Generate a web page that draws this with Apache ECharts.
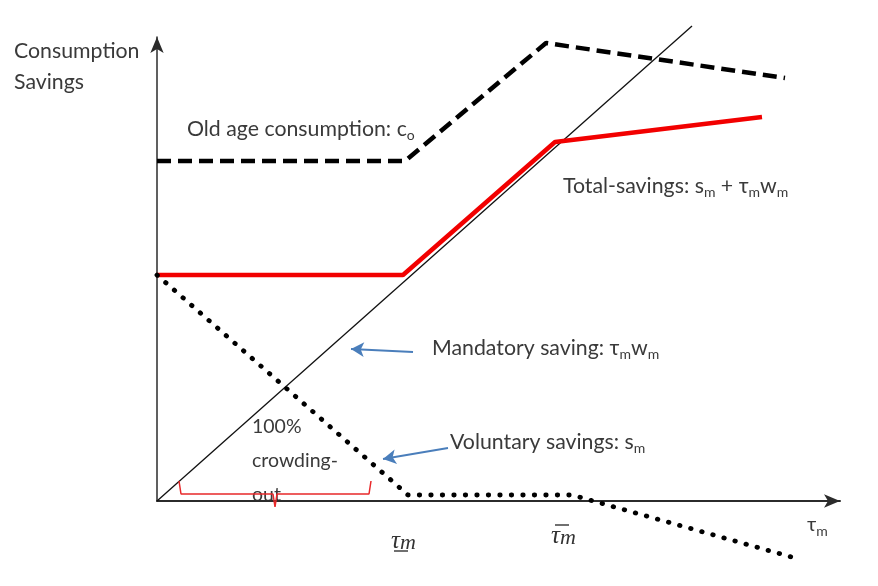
<!DOCTYPE html>
<html>
<head>
<meta charset="utf-8">
<script src="https://cdn.jsdelivr.net/npm/echarts@6/dist/echarts.min.js"></script>
<style>html,body{margin:0;padding:0;background:#fff;}#c{width:878px;height:586px;}</style>
</head>
<body>
<div id="c"></div>
<script>
// Values (abstract units along the tau_m axis and the consumption/savings axis)
const mandatoryX = [0, 535];
const mandatoryY = [0, 475];
const oldAgeX = [0, 248, 389, 628];
const oldAgeY = [340, 340, 458, 423];
const totalX = [0, 246, 398, 605];
const totalY = [226, 226, 359, 384];
const voluntaryX = [0, 251, 415, 638];
const voluntaryY = [226, 6, 6, -57];
const braceX = [22, 24, 116, 118, 120, 212, 214];
const braceY = [20, 7, 7, -6, 7, 7, 20];
const mandArrow = [[256, 149], [194, 152]];
const volArrow = [[291, 53], [226, 42]];
const xMax = 683, yMax = 464;

const zip = (xs, ys) => xs.map((x, i) => [x, ys[i]]);
const FONT = 'Lato, "Open Sans", sans-serif';
const TXT = '#3a3a3a';
const sub = {fontSize: 14, fontFamily: FONT, fill: TXT, color: TXT, lineHeight: 16, verticalAlign: 'bottom'};
const main = {fontSize: 21.3, fontFamily: FONT, fill: TXT, color: TXT, lineHeight: 26};
const serifI = {fontSize: 25, fontFamily: '"Liberation Serif", serif', fontStyle: 'italic', fill: '#333', lineHeight: 26};
const serifSub = {fontSize: 22, fontFamily: '"Liberation Serif", serif', fontStyle: 'italic', fill: '#333', lineHeight: 22, verticalAlign: 'bottom'};

const chart = echarts.init(document.getElementById('c'));
function txt(x, y, text) {
  return {type: 'text', x: x, y: y, style: {text: text, rich: {a: main, s: sub}, font: '21.3px ' + FONT, fill: TXT}};
}
function tau(x, y) {
  return {type: 'text', x: x, y: y, style: {text: '{t|τ}{m|m}', rich: {t: serifI, m: serifSub}, fill: '#333'}};
}
function bar(x1, x2, y) {
  return {type: 'line', shape: {x1: x1, y1: y, x2: x2, y2: y}, style: {stroke: '#333', lineWidth: 1.4}};
}
chart.setOption({
  animation: false,
  backgroundColor: '#fff',
  grid: {left: 157, right: 38, top: 37, bottom: 85},
  xAxis: {type: 'value', min: 0, max: xMax, axisLine: {show: true, onZero: false, symbol: ['none', 'arrow'], symbolSize: [10, 16], lineStyle: {color: '#2b2b2b', width: 2}},
    axisTick: {show: false}, axisLabel: {show: false}, splitLine: {show: false}},
  yAxis: {type: 'value', min: 0, max: yMax, axisLine: {show: true, onZero: false, symbol: ['none', 'arrow'], symbolSize: [10, 16], lineStyle: {color: '#2b2b2b', width: 1.5}},
    axisTick: {show: false}, axisLabel: {show: false}, splitLine: {show: false}},
  series: [
    {type: 'line', data: zip(mandatoryX, mandatoryY), clip: false, symbol: 'none', lineStyle: {color: '#111', width: 1.3}},
    {type: 'line', data: zip(oldAgeX, oldAgeY), clip: false, symbol: 'none', lineStyle: {color: '#000', width: 4.5, type: [14, 7]}},
    {type: 'line', data: zip(totalX, totalY), clip: false, symbol: 'none', lineStyle: {color: '#f20000', width: 4.5}},
    {type: 'line', data: zip(voluntaryX, voluntaryY), clip: false, symbol: 'none', lineStyle: {color: '#000', width: 4.8, type: [0.5, 11], cap: 'round'}},
    {type: 'line', data: zip(braceX, braceY), clip: false, symbol: 'none', lineStyle: {color: '#e8282a', width: 1.5}},
    {type: 'line', data: [], symbol: 'none',
      markLine: {silent: true, symbol: ['none', 'arrow'], symbolSize: [11, 13], label: {show: false},
        lineStyle: {color: '#4a7ebb', width: 1.8, type: 'solid'},
        data: [[{coord: mandArrow[0]}, {coord: mandArrow[1]}], [{coord: volArrow[0]}, {coord: volArrow[1]}]]}}
  ],
  graphic: [
    txt(14, 38, '{a|Consumption}'),
    txt(14, 69, '{a|Savings}'),
    txt(187, 116, '{a|Old age consumption: c}{s|o}'),
    txt(563, 173, '{a|Total-savings: s}{s|m}{a| + τ}{s|m}{a|w}{s|m}'),
    txt(432, 335, '{a|Mandatory saving: τ}{s|m}{a|w}{s|m}'),
    txt(450, 429, '{a|Voluntary savings: s}{s|m}'),
    {type: 'text', x: 252, y: 410, style: {text: '100%\ncrowding-\nout', font: '19.5px ' + FONT, fill: TXT, lineHeight: 34}},
    tau(391, 528), bar(394, 408, 551),
    tau(551, 523), bar(555, 569, 525),
    {type: 'text', x: 807, y: 512, style: {text: '{a|τ}{s|m}', rich: {a: {fontSize: 20, fontFamily: FONT, fill: TXT, lineHeight: 26}, s: sub}, fill: TXT}}
  ]
});
</script>
</body>
</html>
